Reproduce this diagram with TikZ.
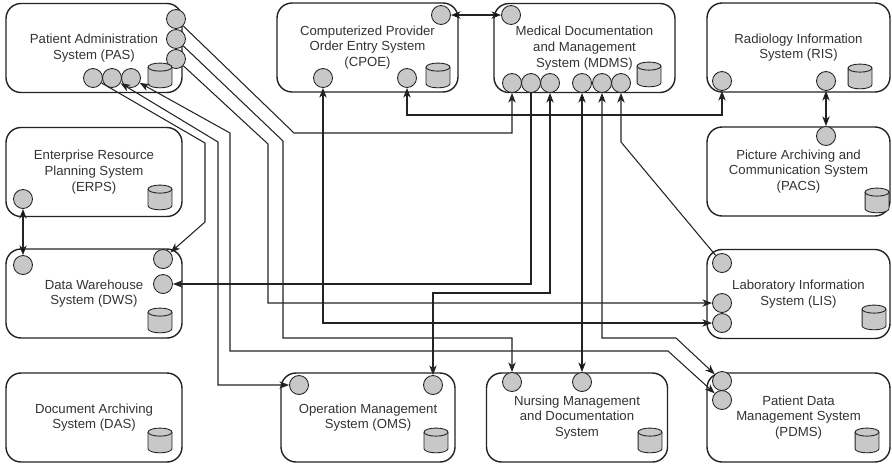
\documentclass[tikz,border=0pt]{standalone}
\usepackage{fontspec}
\setmainfont{Liberation Sans}
\usetikzlibrary{arrows.meta}
\definecolor{portgray}{RGB}{200,200,200}
\definecolor{inkgray}{RGB}{35,35,35}

\tikzset{
    dbstore/.pic={
        \filldraw[draw=inkgray,fill=portgray,line width=0.5pt]
            (-6.8pt,4.5pt) -- (-6.8pt,-5pt)
            arc[start angle=180,end angle=360,x radius=6.8pt,y radius=2.3pt]
            -- (6.8pt,4.5pt);
        \filldraw[draw=inkgray,fill=portgray,line width=0.5pt]
            (0pt,4.5pt) ellipse[x radius=6.8pt,y radius=2.3pt];
    }
}

\begin{document}
\begin{tikzpicture}[x=0.02cm,y=-0.02cm,
        sys node/.style={draw=inkgray,rounded corners=0.3cm,line width=0.8pt,align=center,
          minimum width=3.62cm,minimum height=1.78cm,inner sep=0pt,text=black!80,
          font=\fontsize{7.5}{9}\selectfont},
        port node/.style={circle,draw=inkgray,fill=portgray,minimum size=0.38cm,inner sep=0pt,line width=0.5pt},
        wire/.style={draw=inkgray,line width=0.6pt},
        >={Stealth[length=5.5pt,width=4.2pt,inset=1.6pt]}]

    \useasboundingbox (0,0) rectangle (892,464);

    \node[sys node,minimum width=3.52cm] (pas) at (94,48) {Patient Administration\\System (PAS)};
    \node[sys node] (cpoe) at (367.5,47.5) {Computerized Provider\\Order Entry System\\(CPOE)};
    \node[sys node] (mdms) at (584.5,48) {Medical Documentation\\and Management\\System (MDMS)};
    \node[sys node,minimum width=3.66cm] (ris) at (798.5,47.5) {Radiology Information\\System (RIS)};
    \node[sys node,minimum width=3.66cm] (pacs) at (798.5,171.5) {Picture Archiving and\\Communication System\\(PACS)};
    \node[sys node,minimum width=3.52cm] (erps) at (94,172) {Enterprise Resource\\Planning System\\(ERPS)};
    \node[sys node,minimum width=3.52cm] (dws) at (94,293.5) {Data Warehouse\\System (DWS)};
    \node[sys node,minimum width=3.66cm] (lis) at (798.5,294) {Laboratory Information\\System (LIS)};
    \node[sys node,minimum width=3.52cm] (das) at (94,417.5) {Document Archiving\\System (DAS)};
    \node[sys node,minimum width=3.48cm] (oms) at (368,417.5) {Operation Management\\System (OMS)};
    \node[sys node] (nmds) at (577,417.5) {Nursing Management\\and Documentation\\System};
    \node[sys node,minimum width=3.66cm] (pdms) at (798.5,417.5) {Patient Data\\Management System\\(PDMS)};

    \node[port node] (pas-r1) at (176,19) {};
    \node[port node] (pas-r2) at (176,39) {};
    \node[port node] (pas-r3) at (176,59) {};
    \node[port node] (pas-b1) at (93,78) {};
    \node[port node] (pas-b2) at (112,78) {};
    \node[port node] (pas-b3) at (131,78) {};
    \pic (pas-db) at (160,75) {dbstore};

    \node[port node] (cpoe-t) at (441,15) {};
    \node[port node] (cpoe-b1) at (323,78) {};
    \node[port node] (cpoe-b2) at (407,78) {};
    \pic (cpoe-db) at (438,75) {dbstore};

    \node[port node] (mdms-t) at (511,15) {};
    \node[port node] (mdms-b1) at (512,83) {};
    \node[port node] (mdms-b2) at (531,83) {};
    \node[port node] (mdms-b3) at (550,83) {};
    \node[port node] (mdms-b4) at (582,83) {};
    \node[port node] (mdms-b5) at (602,83) {};
    \node[port node] (mdms-b6) at (621,83) {};
    \pic (mdms-db) at (649,74) {dbstore};

    \node[port node] (ris-p1) at (722,81) {};
    \node[port node] (ris-p2) at (826,81) {};
    \pic (ris-db) at (860,76) {dbstore};

    \node[port node] (pacs-p) at (826,136) {};
    \pic (pacs-db) at (877,200) {dbstore};

    \node[port node] (erps-p) at (23,199) {};
    \pic (erps-db) at (160,197) {dbstore};

    \node[port node] (dws-p0) at (23,265) {};
    \node[port node] (dws-p1) at (163,259) {};
    \node[port node] (dws-p2) at (163,284) {};
    \pic (dws-db) at (160,320) {dbstore};

    \node[port node] (lis-p1) at (722,263) {};
    \node[port node] (lis-p2) at (722,303) {};
    \node[port node] (lis-p3) at (722,323) {};
    \pic (lis-db) at (874,317) {dbstore};

    \pic (das-db) at (160,440) {dbstore};

    \node[port node] (oms-p1) at (299,385) {};
    \node[port node] (oms-p2) at (433,385) {};
    \pic (oms-db) at (436,440) {dbstore};

    \node[port node] (nmds-p1) at (512,382) {};
    \node[port node] (nmds-p2) at (582,382) {};
    \pic (nmds-db) at (650,440) {dbstore};

    \node[port node] (pdms-p1) at (722,381) {};
    \node[port node] (pdms-p2) at (722,400) {};
    \pic (pdms-db) at (867,440) {dbstore};

    \draw[wire,->] (pas-r1) -- (294,133) -| (mdms-b1);
    \draw[wire,->] (pas-r2) -- (283,141) -- (283,338) -| (nmds-p1);
    \draw[wire,->] (pas-r3) -- (268,144) |- (lis-p2);
    \draw[wire,->] (pas-b1) -- (205,143) -- (205,222) -- (dws-p1);
    \draw[wire,<->] (pas-b2) -- (218,142) |- (oms-p1);
    \draw[wire,<->] (pas-b3) -- (230,133) |- (668,351) -- (pdms-p2);

    \draw[wire,<->] (cpoe-b1) |- (lis-p3);
    \draw[wire,<->] (cpoe-b2) -- (407,115) -| (ris-p1);
    \draw[wire,->] (mdms-b2) |- (dws-p2);
    \draw[wire,<->] (mdms-b3) -- (550,293) -| (oms-p2);
    \draw[wire,<->] (mdms-b5) |- (676,338) -- (pdms-p1);
    \draw[wire,->] (lis-p1) -- (621,142) -- (mdms-b6);

    \path[wire,<->]
    (cpoe-t) edge (mdms-t)
    (mdms-b4) edge (nmds-p2)
    (ris-p2) edge (pacs-p)
    (erps-p) edge (dws-p0);
\end{tikzpicture}
\end{document}
